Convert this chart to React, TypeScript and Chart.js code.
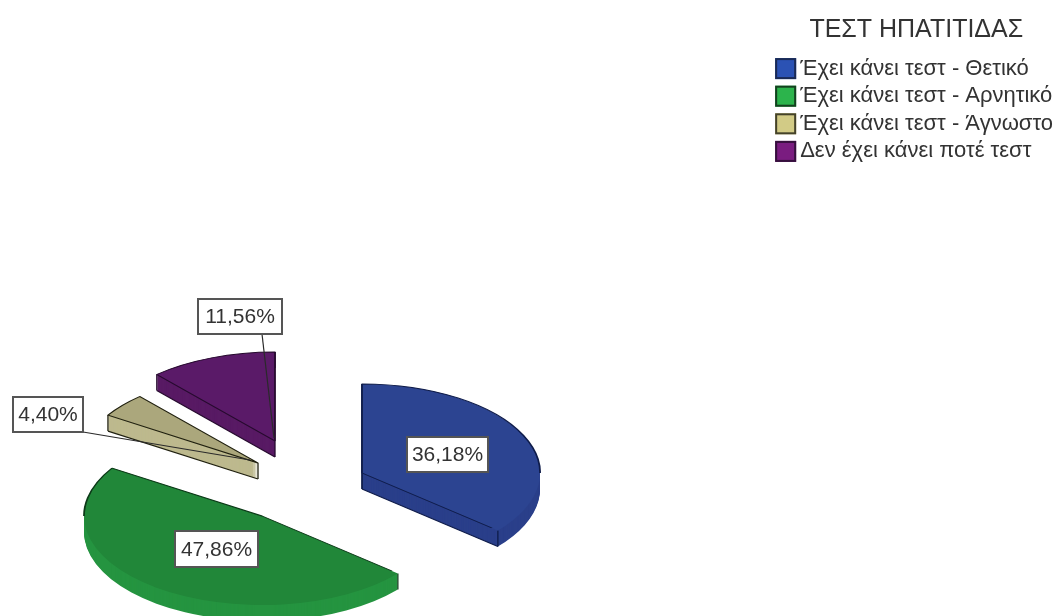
import React, { useEffect, useRef } from "react";
import { Chart, registerables } from "chart.js";

Chart.register(...registerables);

// ---- data ----
const categories = [
  "Έχει κάνει τεστ - Θετικό",
  "Έχει κάνει τεστ - Αρνητικό",
  "Έχει κάνει τεστ - Άγνωστο",
  "Δεν έχει κάνει ποτέ τεστ",
];
const percentages = [36.18, 47.86, 4.4, 11.56];
const legendTitle = "ΤΕΣΤ ΗΠΑΤΙΤΙΔΑΣ";

// ---- styles ----
const topColors = ["#2c4491", "#218739", "#aba77c", "#5a1a68"];
const wallColors = ["#2a3f8a", "#259440", "#bdb98e", "#581a64"];
const edgeColors = ["#0f1c4a", "#0c3a18", "#20200f", "#260a2e"];
const legendColors = ["#2b52b4", "#2cb44c", "#d2cb86", "#7a1c80"];
const legendEdges = ["#1a2a55", "#14401f", "#44422a", "#35103c"];

const RADIUS = 178;
const TILT = 0.5;
const DEPTH = 16;
// where each exploded slice's apex sits on the page
const sliceCentres = [
  { x: 362, y: 473 },
  { x: 262, y: 516 },
  { x: 258, y: 463 },
  { x: 275, y: 441 },
];
const drawOrder = [3, 2, 0, 1];
const labelBoxes = [
  { x: 407, y: 437, w: 81, h: 35 },
  { x: 175, y: 531, w: 83, h: 36 },
  { x: 13, y: 397, w: 70, h: 35 },
  { x: 198, y: 299, w: 84, h: 35 },
];
const leaders: (null | number[])[] = [null, null, [83, 432, 250, 460], [262, 334, 274, 438]];

const pct = (v: number) => v.toFixed(2).replace(".", ",") + "%";

const pie3d = {
  id: "pie3d",
  beforeDatasetsDraw(chart: any) {
    const ctx = chart.ctx;
    const arcs = chart.getDatasetMeta(0).data;
    const drawArc = (arc: any, i: number, dy: number, opts: any) => {
      const saved = arc.options;
      arc.options = { ...saved, ...opts };
      ctx.save();
      ctx.translate(sliceCentres[i].x, sliceCentres[i].y + dy);
      ctx.scale(1, TILT);
      ctx.translate(-arc.x, -arc.y);
      arc.draw(ctx);
      ctx.restore();
      arc.options = saved;
    };
    const clipEdges = (i: number) => {
      const c = sliceCentres[i];
      ctx.beginPath();
      ctx.ellipse(c.x, c.y, RADIUS - 8, (RADIUS - 8) * TILT, 0, 0, Math.PI * 2);
      ctx.rect(c.x - RADIUS - 10, c.y - RADIUS, 2 * RADIUS + 20, RADIUS);
      ctx.clip();
    };
    const rim = (i: number, a: number) => ({
      x: sliceCentres[i].x + RADIUS * Math.cos(a),
      y: sliceCentres[i].y + RADIUS * TILT * Math.sin(a),
    });
    const segment = (x0: number, y0: number, x1: number, y1: number, color: string) => {
      ctx.save();
      ctx.strokeStyle = color;
      ctx.lineWidth = 1.3;
      ctx.beginPath();
      ctx.moveTo(x0, y0);
      ctx.lineTo(x1, y1);
      ctx.stroke();
      ctx.restore();
    };
    drawOrder.forEach((i) => {
      const arc = arcs[i];
      const c = sliceCentres[i];
      const mid = (arc.startAngle + arc.endAngle) / 2;
      for (let d = DEPTH; d >= 1; d--) {
        drawArc(arc, i, d, { backgroundColor: wallColors[i], borderWidth: 0 });
      }
      segment(c.x, c.y, c.x, c.y + DEPTH, edgeColors[i]);
      [arc.startAngle, arc.endAngle].forEach((a: number) => {
        const p = rim(i, a);
        // the wall under a radial edge shows only if the slice lies above that edge
        let nx = -Math.sin(a);
        let ny = Math.cos(a);
        if (ny < -1e-6 || (Math.abs(ny) <= 1e-6 && nx > 0)) {
          nx = -nx;
          ny = -ny;
        }
        const facing = nx * Math.cos(mid) + ny * Math.sin(mid) < 0;
        if (facing) segment(c.x, c.y + DEPTH, p.x, p.y + DEPTH, edgeColors[i]);
        segment(p.x, p.y, p.x, p.y + DEPTH, edgeColors[i]);
      });
      drawArc(arc, i, 0, { backgroundColor: topColors[i], borderWidth: 0 });
      ctx.save();
      clipEdges(i);
      drawArc(arc, i, 0, { backgroundColor: "rgba(0,0,0,0)", borderWidth: 1.8, borderColor: edgeColors[i] });
      ctx.restore();
    });
    return false;
  },
  afterDraw(chart: any) {
    const ctx = chart.ctx;
    const boxes = chart.legend.legendHitBoxes;
    ctx.save();
    boxes.forEach((h: any, i: number) => {
      const y = h.top + h.height / 2 - 10.5;
      ctx.fillStyle = legendColors[i];
      ctx.fillRect(h.left, y, 21, 21);
      ctx.strokeStyle = legendEdges[i];
      ctx.lineWidth = 2;
      ctx.strokeRect(h.left + 1, y + 1, 19, 19);
    });
    leaders.forEach((l) => {
      if (!l) return;
      ctx.strokeStyle = "#2a2a2a";
      ctx.lineWidth = 1.2;
      ctx.beginPath();
      ctx.moveTo(l[0], l[1]);
      ctx.lineTo(l[2], l[3]);
      ctx.stroke();
    });
    ctx.font = '21px "Liberation Sans"';
    ctx.textAlign = "center";
    ctx.textBaseline = "middle";
    percentages.forEach((v, i) => {
      const b = labelBoxes[i];
      ctx.fillStyle = "#ffffff";
      ctx.fillRect(b.x, b.y, b.w, b.h);
      ctx.strokeStyle = "#555555";
      ctx.lineWidth = 2;
      ctx.strokeRect(b.x, b.y, b.w, b.h);
      ctx.fillStyle = "#333333";
      ctx.fillText(pct(v), b.x + b.w / 2, b.y + b.h / 2 + 1);
    });
    ctx.restore();
  },
};

export default function App() {
  const ref = useRef<HTMLCanvasElement | null>(null);
  useEffect(() => {
    const chart = new Chart(ref.current as HTMLCanvasElement, {
      type: "pie",
      data: {
        labels: categories,
        datasets: [{ data: percentages, backgroundColor: topColors, borderColor: edgeColors, borderWidth: 0 }],
      },
      options: {
        responsive: false,
        animation: false,
        radius: RADIUS,
        layout: { padding: { top: 4, right: -4, left: 0, bottom: 0 } },
        plugins: {
          tooltip: { enabled: false },
          legend: {
            position: "right",
            align: "start",
            title: {
              display: true,
              text: legendTitle,
              color: "#333333",
              position: "center",
              font: { family: '"Liberation Sans"', size: 25, weight: "normal" },
              padding: { top: 14, bottom: 4 },
            },
            labels: {
              boxWidth: 14,
              boxHeight: 21,
              padding: 5.6,
              color: "#333333",
              font: { family: '"Liberation Sans"', size: 22 },
              generateLabels: () =>
                categories.map((text, index) => ({
                  text,
                  index,
                  fillStyle: "rgba(0,0,0,0)",
                  strokeStyle: "rgba(0,0,0,0)",
                  lineWidth: 0,
                  hidden: false,
                })),
            },
          },
        },
      },
      plugins: [pie3d],
    } as any);
    return () => chart.destroy();
  }, []);
  return (
    <div style={{ position: "fixed", left: 0, top: 0, width: 1059, height: 616, background: "#fff", overflow: "hidden" }}>
      <canvas ref={ref} width={1059} height={616} style={{ display: "block" }} />
    </div>
  );
}
